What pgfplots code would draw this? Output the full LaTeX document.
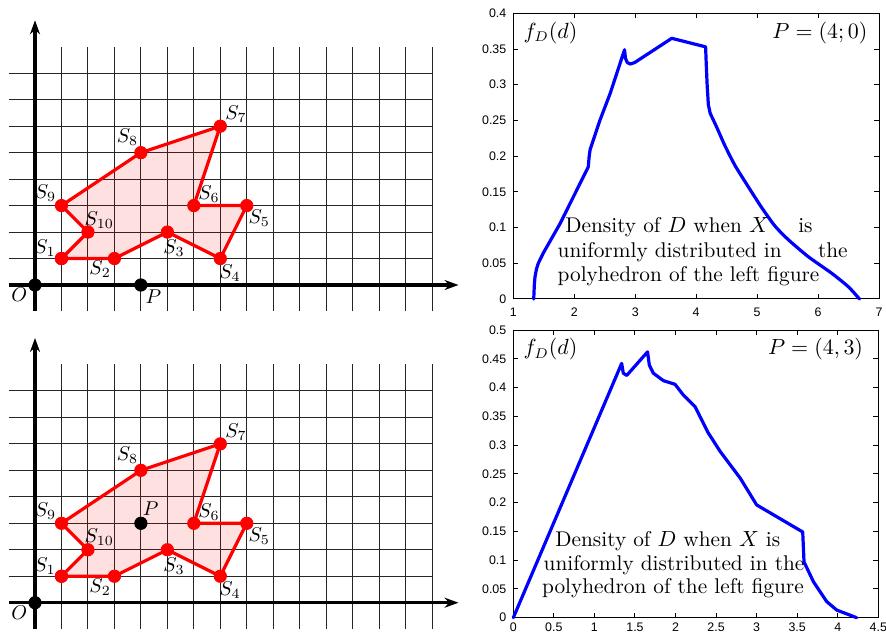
\documentclass[border=0pt]{standalone}
\usepackage{fontspec}
\usepackage{pgfplots}
\pgfplotsset{compat=1.18}
\usetikzlibrary{arrows.meta}
\newfontfamily\ticksf{Liberation Sans}

% polygon S1..S10 (closed)
\pgfplotstableread{
x y
1 1
3 1
5 2
7 1
8 3
6 3
7 6
4 5
1 3
2 2
1 1
}\polygon

\pgfplotsset{
  gridpanel/.style={
    x=13.235pt, y=13.235pt,
    xmin=-1, xmax=15, ymin=-1, ymax=9,
    enlargelimits=false,
    anchor=south west,
    axis line style={draw=none},
    xtick={1,...,15}, ytick={1,...,8},
    xticklabel=\empty, yticklabel=\empty,
    major tick length=0pt,
    grid=major,
    major grid style={black!85, line width=0.5pt},
    clip=false,
  },
  densitypanel/.style={
    scale only axis,
    anchor=south west,
    enlargelimits=false,
    axis line style={line width=0.5pt},
    tick style={black, line width=0.5pt},
    major tick length=2.5pt,
    tick align=inside,
    tick label style={font=\fontsize{6.2}{7}\selectfont\ticksf},
    /pgf/number format/assume math mode=true,
    /pgf/number format/fixed,
    /pgf/number format/precision=2,
    scaled ticks=false,
    xticklabel style={yshift=-0.8pt},
    clip=false,
  },
}

\newcommand{\polypanel}{%
  \addplot[draw=red, line width=1.6pt, fill=red, fill opacity=0.12, line join=round] table {\polygon};
  \addplot[black, line width=1.6pt, -{Stealth[length=7pt,width=5pt]}] coordinates {(-1,0)(16,0)};
  \addplot[black, line width=1.6pt, -{Stealth[length=7pt,width=5pt]}] coordinates {(0,-1)(0,10)};
  \addplot[only marks, mark=*, mark size=3.1pt, red] table {\polygon};
  \node at (axis cs:0.38,1.39) {$S_1$};
  \node at (axis cs:2.46,0.59) {$S_2$};
  \node at (axis cs:5.25,1.39) {$S_3$};
  \node at (axis cs:7.37,0.46) {$S_4$};
  \node at (axis cs:8.47,2.52) {$S_5$};
  \node at (axis cs:6.57,3.43) {$S_6$};
  \node at (axis cs:7.59,6.45) {$S_7$};
  \node at (axis cs:3.49,5.58) {$S_8$};
  \node at (axis cs:0.40,3.46) {$S_9$};
  \node at (axis cs:2.43,2.46) {$S_{10}$};
  \node at (axis cs:-0.59,-0.38) {$O$};
}

\begin{document}
\begin{tikzpicture}[font=\fontsize{10}{12}\selectfont]
\useasboundingbox (0,0) rectangle (443pt,315.5pt);

% top left: P = (4,0)
\begin{axis}[gridpanel, at={(4.265pt,159.765pt)}]
\polypanel
\addplot[only marks, mark=*, mark size=3.1pt, black] coordinates {(0,0)(4,0)};
\node at (axis cs:4.47,-0.44) {$P$};
\end{axis}

% bottom left: P = (4,3)
\begin{axis}[gridpanel, at={(4.265pt,0.915pt)}]
\polypanel
\addplot[only marks, mark=*, mark size=3.1pt, black] coordinates {(0,0)(4,3)};
\node at (axis cs:4.37,3.57) {$P$};
\end{axis}

% top right
\begin{axis}[densitypanel, at={(256.65pt,166pt)}, width=182.85pt, height=142.85pt,
  xmin=1, xmax=7, ymin=0, ymax=0.4,
  xtick={1,2,3,4,5,6,7},
  ytick={0,0.05,0.1,0.15,0.2,0.25,0.3,0.35,0.4}]
\addplot[blue, line width=1.6pt, line join=round, line cap=round] coordinates {
(1.335,0)(1.345,0.02)(1.356,0.031)(1.38,0.042)(1.41,0.05)(1.49,0.064)
(1.77,0.106)(2.23,0.185)(2.245,0.2)(2.26,0.209)(2.42,0.25)(2.59,0.288)
(2.825,0.349)(2.84,0.337)(2.87,0.331)(2.92,0.329)(2.99,0.331)(3.08,0.336)
(3.6,0.365)(4.155,0.353)(4.165,0.33)(4.18,0.3)(4.2,0.272)(4.23,0.26)};
\addplot[blue, line width=1.6pt, line cap=round, smooth, tension=0.4] coordinates {
(4.23,0.26)(4.34,0.24)(4.47,0.215)(4.637,0.187)(4.856,0.157)(5.075,0.128)
(5.294,0.102)(5.512,0.083)(5.84,0.0592)(6.224,0.036)(6.496,0.0172)(6.68,0)};
\begin{scope}[font=\fontsize{10.65}{12.4}\selectfont, inner sep=0pt]
\node[anchor=base west] at (axis cs:1.164,0.365) {$f_D(d)$};
\node[anchor=base east] at (axis cs:6.815,0.365) {$P=(4;0)$};
\node[anchor=base west] at (axis cs:1.848,0.0934) {Density of $D$ when $X$};
\node[anchor=base east] at (axis cs:5.917,0.0934) {is};
\node[anchor=base west] at (axis cs:1.722,0.0578) {uniformly distributed in};
\node[anchor=base east] at (axis cs:6.491,0.0578) {the};
\node[anchor=base west] at (axis cs:1.722,0.0242) {polyhedron of the left figure};
\end{scope}
\end{axis}

% bottom right
\begin{axis}[densitypanel, at={(256.65pt,6.65pt)}, width=182.5pt, height=143.85pt,
  xmin=0, xmax=4.5, ymin=0, ymax=0.5,
  xtick={0,0.5,1,1.5,2,2.5,3,3.5,4,4.5},
  ytick={0,0.05,0.1,0.15,0.2,0.25,0.3,0.35,0.4,0.45,0.5},
  xticklabel style={yshift=1.6pt}]
\addplot[blue, line width=1.6pt, line join=round, line cap=round] coordinates {
(0,0)(1.336,0.442)(1.356,0.425)(1.398,0.421)(1.655,0.462)(1.677,0.439)
(1.726,0.425)(1.85,0.412)(1.994,0.4056)(2.096,0.387)(2.24,0.367)
(2.3,0.35)(2.4,0.322)(2.55,0.289)(2.8,0.242)(3.0,0.196)(3.568,0.149)
(3.584,0.097)(3.70,0.0626)(3.864,0.028)(3.987,0.0133)(4.233,0)};
\begin{scope}[font=\fontsize{10.65}{12.4}\selectfont, inner sep=0pt]
\node[anchor=base west] at (axis cs:0.123,0.4566) {$f_D(d)$};
\node[anchor=base east] at (axis cs:4.316,0.4566) {$P=(4,3)$};
\node[anchor=base west] at (axis cs:0.514,0.1246) {Density of $D$ when $X$ is};
\node[anchor=base west] at (axis cs:0.370,0.0829) {uniformly distributed in the};
\node[anchor=base west] at (axis cs:0.350,0.0412) {polyhedron of the left figure};
\end{scope}
\end{axis}
\end{tikzpicture}
\end{document}
